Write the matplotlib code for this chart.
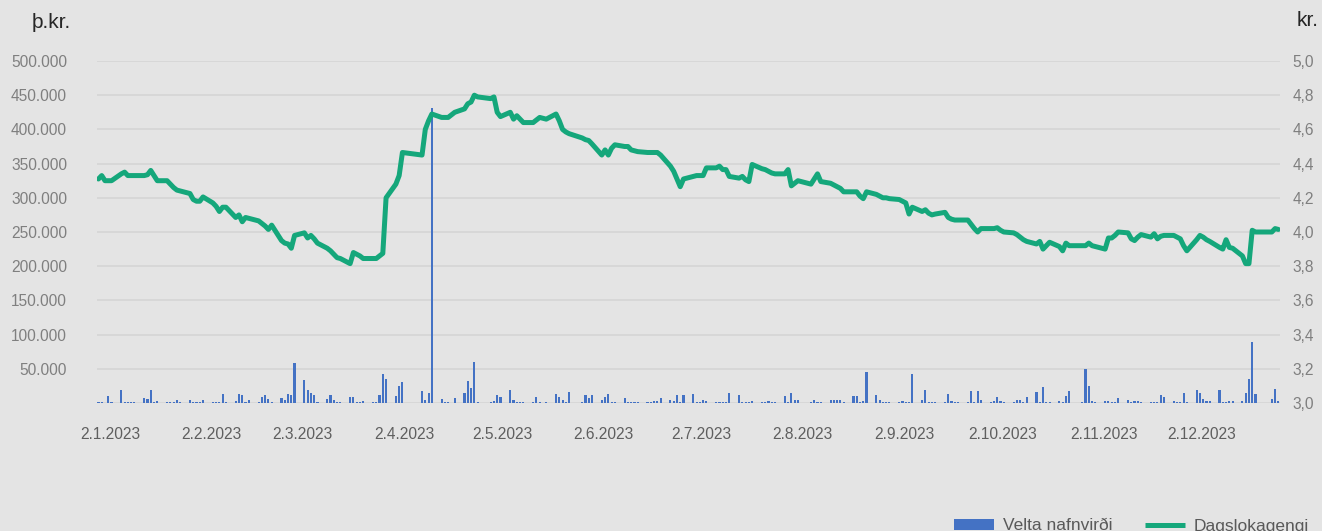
import numpy as np
import pandas as pd
import matplotlib
matplotlib.use("Agg")
import matplotlib.pyplot as plt
from matplotlib.lines import Line2D
from matplotlib.patches import Patch
from matplotlib.ticker import FuncFormatter, FixedLocator
from matplotlib.transforms import ScaledTranslation

# trading days 2023 (Nasdaq Iceland holidays removed)
holidays = ["2023-04-06", "2023-04-07", "2023-04-10", "2023-04-20", "2023-05-01",
            "2023-05-18", "2023-05-29", "2023-08-07", "2023-12-25", "2023-12-26"]
days = pd.bdate_range("2023-01-02", "2023-12-29", freq="C", holidays=holidays)

# closing price (kr.), one row per week
price = [
    4.31, 4.33, 4.30, 4.30, 4.30,
    4.34, 4.35, 4.33, 4.33, 4.33,
    4.33, 4.335, 4.36, 4.33, 4.30,
    4.30, 4.28, 4.26, 4.245, 4.24,
    4.225, 4.19, 4.18, 4.18, 4.205,
    4.17, 4.15, 4.12, 4.145, 4.145,
    4.085, 4.10, 4.06, 4.085, 4.08,
    4.065, 4.05, 4.035, 4.015, 4.04,
    3.95, 3.935, 3.93, 3.905, 3.98,
    3.995, 3.965, 3.98, 3.96, 3.935,
    3.905, 3.89, 3.87, 3.85, 3.845,
    3.815, 3.88, 3.87, 3.86, 3.845,
    3.845, 3.845, 3.86, 3.875, 4.20,
    4.28, 4.33, 4.465,
    4.45, 4.60, 4.65, 4.69,
    4.67, 4.67, 4.67, 4.70,
    4.72, 4.75, 4.76, 4.80, 4.79,
    4.78, 4.79, 4.70, 4.675,
    4.70, 4.66, 4.68, 4.66, 4.64,
    4.64, 4.655, 4.67, 4.66,
    4.69, 4.65, 4.60, 4.585, 4.575,
    4.55, 4.54, 4.535, 4.515,
    4.45, 4.48, 4.45, 4.49, 4.51,
    4.50, 4.50, 4.48, 4.475, 4.47,
    4.465, 4.465, 4.465, 4.465, 4.45,
    4.385, 4.355, 4.31, 4.265, 4.31,
    4.325, 4.33, 4.33, 4.33, 4.375,
    4.375, 4.385, 4.365, 4.365, 4.325,
    4.315, 4.325, 4.305, 4.295, 4.395,
    4.37, 4.365, 4.355, 4.345, 4.34,
    4.34, 4.365, 4.27, 4.285, 4.30,
    4.28, 4.31, 4.34, 4.295,
    4.285, 4.275, 4.265, 4.255, 4.235,
    4.235, 4.235, 4.21, 4.195, 4.235,
    4.22, 4.21, 4.20, 4.20, 4.195,
    4.19, 4.18, 4.17, 4.105, 4.145,
    4.12, 4.13, 4.11, 4.10, 4.105,
    4.115, 4.085, 4.075, 4.07, 4.07,
    4.07, 4.045, 4.02, 4.00, 4.02,
    4.02, 4.02, 4.025, 4.01, 4.00,
    3.995, 3.985, 3.97, 3.955, 3.945,
    3.93, 3.945, 3.90, 3.92, 3.94,
    3.915, 3.89, 3.935, 3.92, 3.92,
    3.92, 3.92, 3.935, 3.92, 3.915,
    3.90, 3.965, 3.965, 3.98, 4.00,
    3.995, 3.96, 3.95, 3.97, 3.985,
    3.97, 3.99, 3.96, 3.975, 3.98,
    3.98, 3.97, 3.96, 3.92, 3.89,
    3.955, 3.98, 3.97, 3.955, 3.945,
    3.91, 3.90, 3.955, 3.91, 3.905,
    3.86, 3.815, 3.815, 4.01, 4.00,
    4.00, 4.02, 4.015,
]

# turnover at nominal value (thousand kr.)
volume = [
    1500, 1500, 0, 10300, 1500,
    19000, 1500, 1500, 1500, 1500,
    7400, 6400, 19000, 1500, 3000,
    1500, 1500, 1500, 4400, 1500,
    4400, 1500, 1500, 1500, 4400,
    1500, 1500, 1500, 13200, 1500,
    3000, 13200, 11800, 1500, 4400,
    1500, 8800, 11800, 5900, 1500,
    7400, 4400, 13200, 11800, 58800,
    33800, 19100, 14700, 11800, 1500,
    5900, 11800, 4400, 1500, 1500,
    8800, 8800, 1500, 1500, 3000,
    1500, 1500, 11800, 42600, 35300,
    10300, 25000, 30900,
    17600, 4400, 14700, 431000,
    5500, 1000, 1000, 6600,
    14300, 31600, 21900, 60200, 1000,
    1000, 2500, 11200, 8200,
    18900, 5100, 2000, 2000, 1000,
    2000, 8200, 2000, 1000,
    12800, 8200, 5100, 1000, 15800,
    1000, 11200, 6600, 11200,
    5100, 8200, 12800, 2000, 2000,
    6600, 1000, 1000, 1000, 1000,
    1000, 1000, 2500, 2500, 6600,
    4000, 2500, 11200, 1000, 11200,
    12800, 1000, 1000, 5100, 3600,
    1000, 1000, 1000, 1000, 14300,
    11200, 1000, 1000, 1000, 3600,
    1000, 1000, 3600, 1000, 1000,
    9700, 2000, 14300, 5100, 4000,
    1000, 5100, 1000, 1000,
    5100, 4000, 5100, 5100, 2000,
    9700, 9700, 1000, 2500, 44900,
    11200, 5100, 1000, 1000, 1000,
    2000, 3600, 1000, 2000, 41800,
    5100, 18900, 1000, 1000, 1000,
    2000, 12800, 3600, 1000, 1000,
    1000, 17300, 1000, 17300, 5100,
    1000, 2500, 8200, 3600, 1000,
    1000, 5100, 5100, 1000, 8200,
    15800, 1000, 23500, 1000, 2000,
    3600, 1000, 9700, 17300, 0,
    1000, 49500, 25000, 3600, 1000,
    2500, 3500, 1000, 1000, 8000,
    5000, 1500, 2500, 3500, 1000,
    1000, 1000, 1000, 11000, 9500,
    3500, 1000, 2000, 15000, 1000,
    18500, 14000, 6000, 3500, 2500,
    18500, 1000, 1000, 3500, 3500,
    3500, 15000, 35000, 89000, 12500,
    6500, 20000, 3500,
]

tick_dates = pd.date_range("2023-01-01", "2023-12-01", freq="MS") + pd.Timedelta(days=1)
tick_labels = [f"{d.day}.{d.month}.{d.year}" for d in tick_dates]

bg = "#e4e4e4"
grid_c = "#d7d7d7"
bar_c = "#4472c4"
line_c = "#15a77b"
sans = ["Liberation Sans", "DejaVu Sans"]

fig = plt.figure(figsize=(13.22, 5.31), dpi=100, facecolor=bg)
ax = fig.add_axes([0.07375, 0.24105, 0.89448, 0.64407])
ax.set_facecolor(bg)
ax2 = ax.twinx()

ax.bar(days, volume, width=0.65, color=bar_c, zorder=2)
ax2.plot(days, price, color=line_c, lw=3.6, solid_joinstyle="round",
         solid_capstyle="round", zorder=3)

ax.set_xlim(days[0] - pd.Timedelta(hours=7), days[0] + pd.Timedelta(days=361.5))
ax.set_ylim(0, 500000)
ax2.set_ylim(3.0, 5.0)

ax.yaxis.set_major_locator(FixedLocator(np.arange(0, 500001, 50000)))
ax.yaxis.set_major_formatter(FuncFormatter(
    lambda v, p: "" if v == 0 else f"{v:,.0f}".replace(",", ".")))
ax2.yaxis.set_major_locator(FixedLocator(np.arange(3.0, 5.01, 0.2)))
ax2.yaxis.set_major_formatter(FuncFormatter(lambda v, p: f"{v:.1f}".replace(".", ",")))

ax.grid(axis="y", color=grid_c, lw=1.4, zorder=0)
ax.set_axisbelow(True)
for a in (ax, ax2):
    for s in a.spines.values():
        s.set_visible(False)

ax.set_xticks(tick_dates)
ax.set_xticklabels(tick_labels)
ax.tick_params(axis="x", length=0, pad=17, labelsize=11.2, labelcolor="#5f5f5f")
ax.tick_params(axis="y", length=0, pad=22, labelsize=11.2, labelcolor="#7f7f7f")
ax2.tick_params(axis="y", length=0, pad=9, labelsize=11.2, labelcolor="#7f7f7f")
for lbl in ax.get_xticklabels() + ax.get_yticklabels() + ax2.get_yticklabels():
    lbl.set_family(sans)
# month labels sit a little to the right of their day
shift = ScaledTranslation(11.5 / 100, 0, fig.dpi_scale_trans)
for lbl in ax.get_xticklabels():
    lbl.set_transform(lbl.get_transform() + shift)

fig.text(51 / 1322, 1 - 22 / 531, "þ.kr.", ha="center", va="center",
         fontsize=15, color="#262626", family=sans)
fig.text(1308 / 1322, 1 - 21 / 531, "kr.", ha="center", va="center",
         fontsize=15, color="#262626", family=sans)

handles = [Patch(facecolor=bar_c),
           Line2D([], [], color=line_c, lw=3.6, solid_capstyle="butt")]
fig.legend(handles, ["Velta nafnvirði", "Dagslokagengi"], ncol=2, frameon=False,
           loc="center right", bbox_to_anchor=(1309 / 1322, 1 - 526 / 531),
           borderaxespad=0, borderpad=0,
           handlelength=2.3, handleheight=0.55, handletextpad=0.5, columnspacing=1.9,
           prop={"family": sans, "size": 12.5}, labelcolor="#595959")

fig.savefig("out.png", dpi=100, facecolor=bg)
